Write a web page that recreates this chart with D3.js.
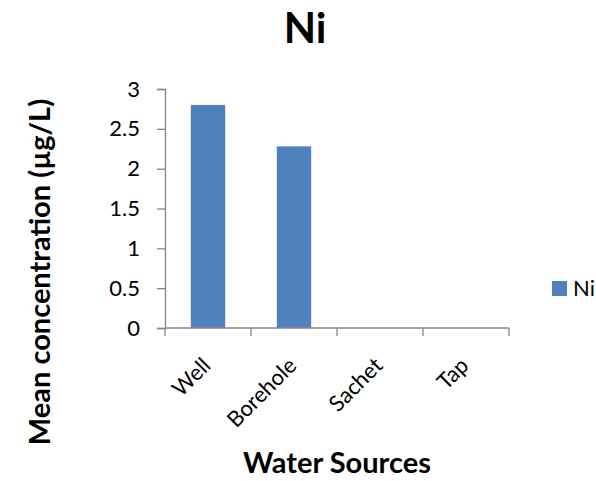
<!DOCTYPE html>
<html>
<head>
<meta charset="utf-8">
<script src="https://cdn.jsdelivr.net/npm/d3@7"></script>
<style>
  html, body { margin: 0; padding: 0; background: #fff; }
  svg { display: block; font-family: Lato, "Open Sans", sans-serif; }
</style>
</head>
<body>
<svg id="chart" width="596" height="481"></svg>
<script>
// Mean nickel concentration per water source (µg/L)
const categories = ["Well", "Borehole", "Sachet", "Tap"];
const niValues = [2.8, 2.28, 0, 0];
const yTicks = [0, 0.5, 1, 1.5, 2, 2.5, 3];
const seriesName = "Ni";

const svg = d3.select("#chart");
const barColor = "#4f81bd";
const axisColor = "#868686";

const plot = { left: 165, right: 509, top: 89, bottom: 328 };

const x = d3.scaleBand()
  .domain(categories)
  .range([plot.left, plot.right])
  .paddingInner(0.6)
  .paddingOuter(0.3);

const y = d3.scaleLinear()
  .domain([0, 3])
  .range([plot.bottom, plot.top]);

// Title
svg.append("text")
  .attr("x", 305).attr("y", 43)
  .attr("text-anchor", "middle")
  .attr("font-size", 42).attr("font-weight", "bold")
  .text(seriesName);

// Bars
svg.append("g").selectAll("rect")
  .data(categories.map((c, i) => ({ c, v: niValues[i] })))
  .join("rect")
  .attr("x", d => x(d.c))
  .attr("width", x.bandwidth())
  .attr("y", d => y(d.v))
  .attr("height", d => y(0) - y(d.v))
  .attr("fill", barColor);

// Y axis
const yAxis = svg.append("g")
  .attr("transform", `translate(${plot.left},0)`)
  .call(d3.axisLeft(y).tickValues(yTicks).tickSize(8).tickPadding(17)
    .tickFormat(d3.format("")));
yAxis.select(".domain").attr("stroke", axisColor).attr("stroke-width", 1.3);
yAxis.selectAll(".tick line").attr("stroke", axisColor).attr("stroke-width", 1.3);
yAxis.selectAll(".tick text")
  .attr("font-size", 22).attr("fill", "#000")
  .attr("font-family", "Lato, 'Open Sans', sans-serif");

// X axis: category boundary ticks
const boundaries = categories.map((c, i) => plot.left + i * (plot.right - plot.left) / categories.length)
  .concat([plot.right]);
const xg = svg.append("g");
xg.append("line")
  .attr("x1", plot.left).attr("x2", plot.right)
  .attr("y1", plot.bottom).attr("y2", plot.bottom)
  .attr("stroke", axisColor).attr("stroke-width", 1.3);
xg.selectAll("line.tk")
  .data(boundaries)
  .join("line")
  .attr("class", "tk")
  .attr("x1", d => d).attr("x2", d => d)
  .attr("y1", plot.bottom).attr("y2", plot.bottom + 8)
  .attr("stroke", axisColor).attr("stroke-width", 1.3);

// Category labels, rotated
xg.selectAll("text")
  .data(categories)
  .join("text")
  .attr("transform", d => `translate(${x(d) + x.bandwidth() / 2 + 4},${plot.bottom + 39}) rotate(-45)`)
  .attr("text-anchor", "end")
  .attr("font-size", 22)
  .text(d => d);

// Axis titles
svg.append("text")
  .attr("x", 337).attr("y", 473)
  .attr("text-anchor", "middle")
  .attr("font-size", 29).attr("font-weight", "bold")
  .text("Water Sources");

svg.append("text")
  .attr("transform", "translate(50,272) rotate(-90)")
  .attr("text-anchor", "middle")
  .attr("font-size", 29).attr("font-weight", "bold")
  .text("Mean concentration (µg/L)");

// Legend
const legend = svg.append("g").attr("transform", "translate(552,281)");
legend.append("rect").attr("width", 15).attr("height", 15).attr("fill", barColor);
legend.append("text")
  .attr("x", 21).attr("y", 15)
  .attr("font-size", 22)
  .text(seriesName);
</script>
</body>
</html>
